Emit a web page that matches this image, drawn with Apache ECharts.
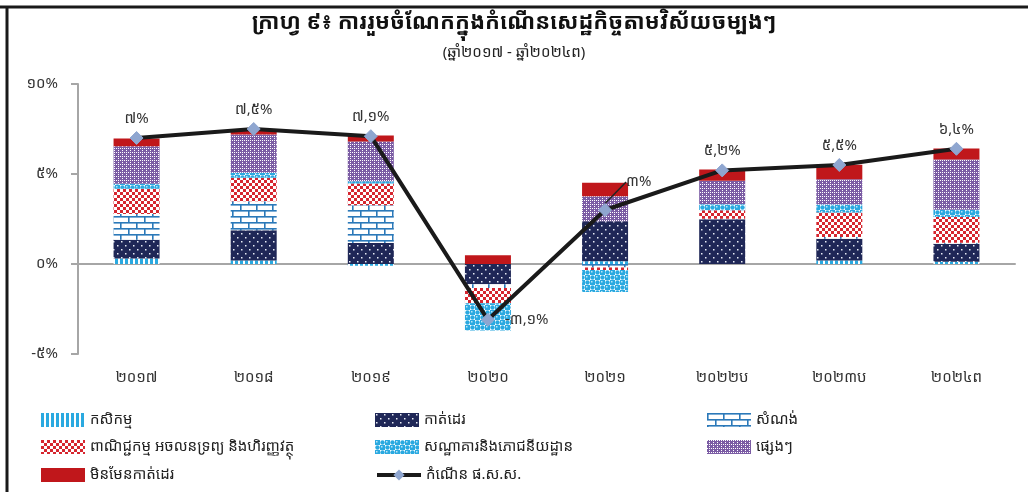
<!DOCTYPE html>
<html>
<head>
<meta charset="utf-8">
<script src="https://cdn.jsdelivr.net/npm/echarts@6/dist/echarts.min.js"></script>
<style>
html,body{margin:0;padding:0;background:#fff;}
#c{width:1028px;height:492px;}
</style>
</head>
<body>
<div id="c"></div>
<script>
const categories = ['២០១៧','២០១៨','២០១៩','២០២០','២០២១','២០២២ប','២០២៣ប','២០២៤ព'];
const yTickLabels = {'-5':'-៥%','0':'០%','5':'៥%','10':'១០%'};
const seriesNames = ['កសិកម្ម','កាត់ដេរ','សំណង់','ពាណិជ្ជកម្ម អចលនទ្រព្យ និងហិរញ្ញវត្ថុ','សណ្ឋាគារនិងភោជនីយដ្ឋាន','ផ្សេងៗ','មិនមែនកាត់ដេរ','កំណើន ផ.ស.ស.'];
const agriculture  = [0.30, 0.19, -0.10, 0.00, 0.15, 0.00, 0.19, 0.13];
const garment      = [1.05, 1.68, 1.17, -1.12, 2.23, 2.48, 1.21, 0.99];
const construction = [1.43, 1.62, 2.09, -0.22, -0.19, 0.03, 0.10, 0.06];
const trade        = [1.40, 1.30, 1.21, -0.84, -0.15, 0.47, 1.36, 1.43];
const hotels       = [0.28, 0.28, 0.13, -1.51, -1.21, 0.34, 0.45, 0.41];
const others       = [2.08, 2.12, 2.20, 0.00, 1.38, 1.30, 1.40, 2.79];
const nonGarment   = [0.43, 0.30, 0.34, 0.48, 0.76, 0.63, 0.80, 0.61];
const gdpGrowth    = [7.0, 7.5, 7.1, -3.1, 3.0, 5.2, 5.5, 6.4];
const gdpLabels    = ['៧%','៧,៥%','៧,១%','-៣,១%','៣%','៥,២%','៥,៥%','៦,៤%'];

function pat(w, h, draw) {
  const c = document.createElement('canvas');
  c.width = w; c.height = h;
  const g = c.getContext('2d');
  draw(g, w, h);
  return { image: c, repeat: 'repeat' };
}
const pAgri = pat(5, 5, g => { g.fillStyle = '#fff'; g.fillRect(0,0,5,5); g.fillStyle = '#2aa9e0'; g.fillRect(0,0,3,5); });
const pGarment = pat(8, 8, g => { g.fillStyle = '#1f2757'; g.fillRect(0,0,8,8); g.fillStyle = '#e8ecf5'; g.fillRect(1,1,1.5,1.5); g.fillRect(5,5,1.5,1.5); });
const pConstr = pat(16, 12, g => {
  g.fillStyle = '#fff'; g.fillRect(0,0,16,12);
  g.fillStyle = '#2b79b9';
  g.fillRect(0,0,16,1.6); g.fillRect(0,6,16,1.6);
  g.fillRect(0,0,1.6,6); g.fillRect(8,6,1.6,6);
});
const pTrade = pat(6, 6, g => { g.fillStyle = '#fff'; g.fillRect(0,0,6,6); g.fillStyle = '#d6262f'; g.fillRect(0,0,3,3); g.fillRect(3,3,3,3); });
const pHotel = pat(10, 10, g => {
  g.fillStyle = '#fff'; g.fillRect(0,0,10,10);
  g.fillStyle = '#2aa9e0';
  g.fillRect(0,0,5,5); g.fillRect(5,5,5,5);
  g.beginPath(); g.arc(7.5,2.5,2.2,0,Math.PI*2); g.fill();
  g.beginPath(); g.arc(2.5,7.5,2.2,0,Math.PI*2); g.fill();
  g.fillStyle = '#bfe6f7';
  g.fillRect(1,1,1.5,1.5); g.fillRect(6,6,1.5,1.5);
});
const pOthers = pat(4, 4, g => { g.fillStyle = '#7b5ca4'; g.fillRect(0,0,4,4); g.fillStyle = '#fff'; g.fillRect(0,0,1,1); g.fillRect(2,2,1,1); g.fillRect(2,0,1,1); });
const solidRed = '#c0171b';

const fills = [pAgri, pGarment, pConstr, pTrade, pHotel, pOthers, solidRed];
const stacks = [agriculture, garment, construction, trade, hotels, others, nonGarment];

const font = "'Noto Sans Khmer', 'Khmer OS', 'Noto Sans', sans-serif";

const barSeries = stacks.map((arr, i) => ({
  name: seriesNames[i],
  type: 'bar',
  stack: 'total',
  barWidth: 46,
  xAxisIndex: 0,
  itemStyle: { color: fills[i] },
  data: arr,
  z: 2
}));

const labelOffsets = [[0,-8],[3,3],[10,3],[0,0],[0,0],[10,-7],[10,-3],[0,3]];

const lineSeries = {
  name: seriesNames[7],
  type: 'line',
  xAxisIndex: 0,
  data: gdpGrowth.map((v, i) => ({
    value: v,
    label: i === 3 ? { position: 'right', distance: 10, offset: [0, 2] } :
           i === 4 ? { position: 'right', distance: 0 } :
           { position: 'top', offset: labelOffsets[i] },
    labelLine: i === 4 ? { show: true, lineStyle: { color: '#222', width: 1.5 } } : { show: false }
  })),
  labelLayout: p => p.dataIndex === 4 ? { dx: 14, dy: -28 } : {},
  symbol: 'diamond',
  symbolSize: 13,
  lineStyle: { color: '#1a1a1a', width: 4 },
  itemStyle: { color: '#8fa6d0', borderColor: '#8fa6d0' },
  label: {
    show: true,
    fontFamily: font,
    fontSize: 15,
    color: '#333',
    formatter: p => gdpLabels[p.dataIndex]
  },
  z: 5
};

const legendPos = [[41,420],[375,420],[707,420],[41,447],[375,447],[707,447],[41,475],[375,475]];
const legendOrder = [0,1,2,3,4,5,6,7];
const legends = legendOrder.map((si, k) => ({
  data: [si === 7 ? { name: seriesNames[si] } : { name: seriesNames[si], icon: 'rect' }],
  left: legendPos[k][0],
  top: legendPos[k][1] - 9,
  itemWidth: 44, itemHeight: 14, itemGap: 0, padding: 0,
  lineStyle: { width: 4, color: '#1a1a1a' },
  textStyle: { fontFamily: font, fontSize: 15, color: '#222', lineHeight: 18 }
}));

const chart = echarts.init(document.getElementById('c'), null, { renderer: 'canvas' });
chart.setOption({
  animation: false,
  backgroundColor: '#fff',
  title: [{
    text: 'ក្រាហ្វ ៩៖ ការរួមចំណែកក្នុងកំណើនសេដ្ឋកិច្ចតាមវិស័យចម្បងៗ',
    subtext: '(ឆ្នាំ២០១៧ - ឆ្នាំ២០២៤ព)',
    left: 'center',
    top: 7,
    itemGap: 11,
    textStyle: { fontFamily: font, fontSize: 22, fontWeight: 'bold', color: '#111' },
    subtextStyle: { fontFamily: font, fontSize: 15, color: '#222' }
  }],
  graphic: [
    { type: 'line', shape: { x1: 0, y1: 7, x2: 1028, y2: 7 }, style: { stroke: '#1a1a1a', lineWidth: 3 } },
    { type: 'line', shape: { x1: 7, y1: 6, x2: 7, y2: 492 }, style: { stroke: '#1a1a1a', lineWidth: 3 } }
  ],
  grid: { left: 78, right: 13, top: 84, bottom: 138, containLabel: false },
  legend: legends,
  xAxis: [
    { type: 'category', data: categories, axisLine: { onZero: true, lineStyle: { color: '#a6a6a6', width: 2 } }, axisTick: { show: false }, axisLabel: { show: false }, z: 1 },
    { type: 'category', data: categories, position: 'bottom', axisLine: { show: false, onZero: false }, axisTick: { show: false }, axisLabel: { fontFamily: font, fontSize: 15, color: '#333', margin: 16 } }
  ],
  yAxis: {
    type: 'value', min: -5, max: 10, interval: 5,
    axisLine: { show: true, lineStyle: { color: '#a6a6a6', width: 2 } },
    axisTick: { show: true, length: 7, lineStyle: { color: '#a6a6a6', width: 2 } },
    splitLine: { show: false },
    axisLabel: { fontFamily: font, fontSize: 15, color: '#333', margin: 20, formatter: v => yTickLabels[String(v)] }
  },
  series: [...barSeries, lineSeries]
});
</script>
</body>
</html>
